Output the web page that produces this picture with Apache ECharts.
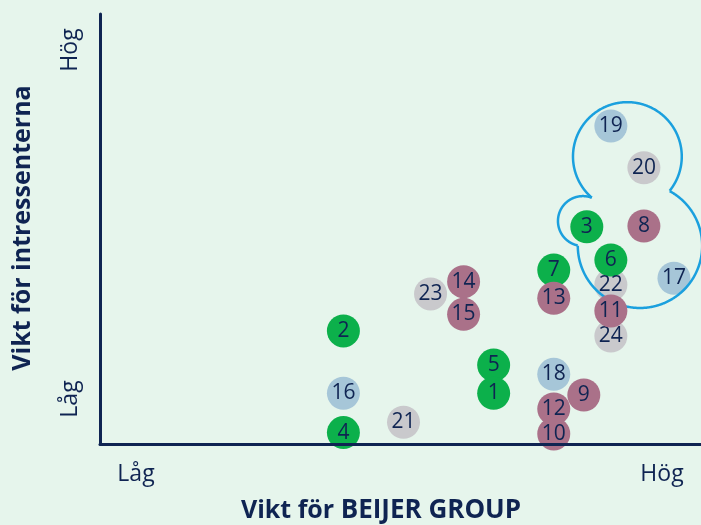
<!DOCTYPE html>
<html>
<head>
<meta charset="utf-8">
<title>Väsentlighetsanalys</title>
<script src="https://cdn.jsdelivr.net/npm/echarts@6/dist/echarts.min.js"></script>
<style>
  html, body { margin: 0; padding: 0; background: #e6f5ec; }
  #chart { width: 701px; height: 525px; }
</style>
</head>
<body>
<div id="chart"></div>
<script>
// ämnen 1-24: x = vikt för Beijer Group, y = vikt för intressenterna (skala 0-20)
var ids    = ['1','2','3','4','5','6','7','8','9','10','11','12','13','14','15','16','17','18','19','20','21','22','23','24'];
var xVals  = [13.1, 8.1, 16.2, 8.1, 13.1, 17.0, 15.1, 18.1, 16.1, 15.1, 17.0, 15.1, 15.1, 12.1, 12.1, 8.1, 19.1, 15.1, 17.0, 18.1, 10.1, 17.0, 11.0, 17.0];
var yVals  = [2.36, 5.26, 10.1, 0.53, 3.67, 8.56, 8.09, 10.14, 2.28, 0.47, 6.19, 1.63, 6.78, 7.55, 6.03, 2.36, 7.71, 3.24, 14.79, 12.85, 1.01, 7.40, 6.98, 5.02];
var groups = ['g','g','g','g','g','g','g','m','m','m','m','m','m','m','m','b','b','b','b','s','s','s','s','s'];

// punkter som ligger underst / över den blå markeringen
var drawFirst   = ['22','24','5','9','7','23'];
var overOutline = ['11'];

// den blå markeringen = union av tre cirklar (x, y, radie i x-enheter)
var lobeX = [17.55, 16.07, 17.97];
var lobeY = [13.37, 10.37, 9.22];
var lobeR = [1.81, 0.83, 2.07];

var colors = { g: '#0cb04b', m: '#aa7189', b: '#a6c6d8', s: '#c9c9cc' };
var navy = '#0f2452';
var font = '"Open Sans", "Noto Sans", sans-serif';

function makeItem(i) {
    return {
        name: ids[i],
        value: [xVals[i], yVals[i]],
        itemStyle: { color: colors[groups[i]], opacity: 1 }
    };
}

var under = [], over = [];
drawFirst.forEach(function (id) { under.push(makeItem(ids.indexOf(id))); });
ids.forEach(function (id, i) {
    if (drawFirst.indexOf(id) >= 0 || overOutline.indexOf(id) >= 0) return;
    under.push(makeItem(i));
});
overOutline.forEach(function (id) { over.push(makeItem(ids.indexOf(id))); });

var bubbleLabel = {
    show: true,
    position: 'inside',
    formatter: '{b}',
    color: navy,
    fontFamily: font,
    fontSize: 21
};

var chart = echarts.init(document.getElementById('chart'));

// ritar bara de delar av varje cirkel som ligger utanför de andra
function renderOutline(params, api) {
    var circles = lobeX.map(function (x, k) {
        var c = api.coord([x, lobeY[k]]);
        return { x: c[0], y: c[1], r: api.size([lobeR[k], 0])[0] };
    });
    var children = [];
    var N = 720;
    circles.forEach(function (c, k) {
        var pts = [], runs = [];
        var startIdx = 0;
        function pt(j) {
            var a = j / N * Math.PI * 2;
            return [c.x + c.r * Math.cos(a), c.y + c.r * Math.sin(a)];
        }
        function isOutside(j) {
            var p = pt(j);
            for (var m = 0; m < circles.length; m++) {
                if (m === k) continue;
                var o = circles[m];
                var dx = p[0] - o.x, dy = p[1] - o.y;
                if (dx * dx + dy * dy < o.r * o.r) return false;
            }
            return true;
        }
        // börja i en punkt som ligger inne i någon annan cirkel
        for (var s = 0; s < N; s++) {
            if (!isOutside(s)) { startIdx = s; break; }
        }
        for (var n = 0; n <= N; n++) {
            var j = (startIdx + n) % N;
            if (isOutside(j)) {
                pts.push(pt(j));
            } else if (pts.length) {
                runs.push(pts);
                pts = [];
            }
        }
        if (pts.length) runs.push(pts);
        runs.forEach(function (run) {
            children.push({
                type: 'polyline',
                shape: { points: run },
                style: { stroke: '#1ba0de', lineWidth: 2.5, fill: null }
            });
        });
    });
    return { type: 'group', children: children };
}

var tickStyle = { font: '23px ' + font, fill: navy, align: 'center', verticalAlign: 'middle' };

var option = {
    backgroundColor: '#e6f5ec',
    animation: false,
    grid: { left: 100, right: 0, top: 14, bottom: 81 },
    xAxis: {
        type: 'value', min: 0, max: 20, z: 10,
        axisLine: { show: true, lineStyle: { color: navy, width: 3 } },
        axisTick: { show: false }, axisLabel: { show: false }, splitLine: { show: false }
    },
    yAxis: {
        type: 'value', min: 0, max: 20, z: 10,
        axisLine: { show: true, lineStyle: { color: navy, width: 3 } },
        axisTick: { show: false }, axisLabel: { show: false }, splitLine: { show: false }
    },
    series: [
        {
            type: 'scatter',
            symbolSize: 33,
            data: under,
            label: bubbleLabel,
            z: 2
        },
        {
            type: 'custom',
            data: [0],
            renderItem: renderOutline,
            silent: true,
            z: 3
        },
        {
            type: 'scatter',
            symbolSize: 33,
            data: over,
            label: bubbleLabel,
            z: 4
        }
    ],
    graphic: [
        { type: 'text', x: 136, y: 474, style: Object.assign({ text: 'Låg' }, tickStyle) },
        { type: 'text', x: 662, y: 474, style: Object.assign({ text: 'Hög' }, tickStyle) },
        { type: 'text', x: 70, y: 50, rotation: Math.PI / 2, style: Object.assign({ text: 'Hög' }, tickStyle) },
        { type: 'text', x: 70, y: 399, rotation: Math.PI / 2, style: Object.assign({ text: 'Låg' }, tickStyle) },
        { type: 'text', x: 23, y: 228, rotation: Math.PI / 2, style: { text: 'Vikt för intressenterna', font: 'bold 25px ' + font, fill: navy, align: 'center', verticalAlign: 'middle' } },
        {
            type: 'text', x: 381, y: 511,
            style: {
                text: '{a|Vikt för }{b|BEIJER GROUP}',
                align: 'center', verticalAlign: 'middle',
                rich: {
                    a: { fontFamily: font, fontWeight: 'bold', fontSize: 25, fill: navy, color: navy },
                    b: { fontFamily: font, fontWeight: 'bold', fontSize: 26, fill: navy, color: navy }
                }
            }
        }
    ]
};
chart.setOption(option);
</script>
</body>
</html>
